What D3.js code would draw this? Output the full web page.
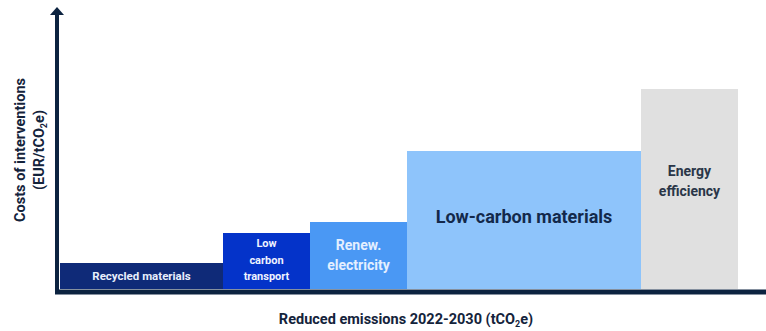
<!DOCTYPE html>
<html>
<head>
<meta charset="utf-8">
<script src="https://cdn.jsdelivr.net/npm/d3@7"></script>
<style>
  html, body { margin: 0; padding: 0; background: #fff; }
  svg { display: block; font-family: Roboto, "Noto Sans", sans-serif; }
</style>
</head>
<body>
<svg id="chart" width="766" height="331"></svg>
<script>
// Abatement cost curve: bar width = emissions reduced, bar height = cost per tonne
const interventions = ["Recycled materials", "Low carbon transport", "Renew. electricity", "Low-carbon materials", "Energy efficiency"];
const labelLines = [["Recycled materials"], ["Low", "carbon", "transport"], ["Renew.", "electricity"], ["Low-carbon materials"], ["Energy", "efficiency"]];
const reducedEmissions = [163, 87, 97, 234, 97];
const costPerTonne = [26, 56, 67, 138, 200];
const fills = ["#0f2a78", "#0433c9", "#4a98f4", "#8ec4fb", "#e0e0e0"];
const textColors = ["#e8eefc", "#eef2ff", "#e4efff", "#13294b", "#2a3648"];
const fontSizes = [11.5, 11, 14, 18, 14];

const svg = d3.select("#chart");
const axisColor = "#0c2340";

const x0 = 60, x1 = 766, yBase = 289, yTop = 9;
const totalX = 706;

const x = d3.scaleLinear().domain([0, totalX]).range([x0, x1]);
const y = d3.scaleLinear().domain([0, 280]).range([yBase, yTop]);

// cumulative start positions along the emissions axis
const starts = [];
reducedEmissions.reduce((acc, w, i) => { starts[i] = acc; return acc + w; }, 0);

const data = interventions.map((name, i) => ({
  name, lines: labelLines[i], start: starts[i], width: reducedEmissions[i],
  cost: costPerTonne[i], fill: fills[i], tc: textColors[i], fs: fontSizes[i]
}));

const g = svg.append("g");

g.selectAll("rect.bar").data(data).join("rect")
  .attr("class", "bar")
  .attr("x", d => x(d.start))
  .attr("width", d => x(d.start + d.width) - x(d.start))
  .attr("y", d => y(d.cost))
  .attr("height", d => y(0) - y(d.cost))
  .attr("fill", d => d.fill);

// bar label baselines
const labelY = {
  "Recycled materials": [280],
  "Low carbon transport": [247, 264, 280],
  "Renew. electricity": [250, 270],
  "Low-carbon materials": [223],
  "Energy efficiency": [176, 196]
};

data.forEach(d => {
  const cx = (x(d.start) + x(d.start + d.width)) / 2;
  const t = g.append("text")
    .attr("text-anchor", "middle")
    .attr("fill", d.tc)
    .attr("font-weight", "bold")
    .attr("font-size", d.fs);
  d.lines.forEach((ln, k) => {
    t.append("tspan").attr("x", cx).attr("y", labelY[d.name][k]).text(ln);
  });
});

// axes
svg.append("line")
  .attr("x1", 57).attr("x2", 57).attr("y1", 14).attr("y2", yBase + 4)
  .attr("stroke", axisColor).attr("stroke-width", 4);
svg.append("path")
  .attr("d", "M50,15 L57,7 L64,15 Z")
  .attr("fill", axisColor);
svg.append("line")
  .attr("x1", 55).attr("x2", 766).attr("y1", yBase + 3).attr("y2", yBase + 3)
  .attr("stroke", axisColor).attr("stroke-width", 5);

// axis titles
const titleColor = "#14233b";
const xt = svg.append("text")
  .attr("x", 406).attr("y", 324)
  .attr("text-anchor", "middle")
  .attr("font-weight", "bold").attr("font-size", 14.5).attr("fill", titleColor);
xt.append("tspan").text("Reduced emissions 2022-2030 (tCO");
xt.append("tspan").attr("font-size", 9).attr("dy", 3).text("2");
xt.append("tspan").attr("dy", -3).text("e)");

const yt = svg.append("g").attr("transform", "translate(0,150) rotate(-90)");
yt.append("text")
  .attr("x", 0).attr("y", 25)
  .attr("text-anchor", "middle")
  .attr("font-weight", "bold").attr("font-size", 14.5).attr("fill", titleColor)
  .text("Costs of interventions");
const yt2 = yt.append("text")
  .attr("x", 0).attr("y", 44)
  .attr("text-anchor", "middle")
  .attr("font-weight", "bold").attr("font-size", 14.5).attr("fill", titleColor);
yt2.append("tspan").text("(EUR/tCO");
yt2.append("tspan").attr("font-size", 9).attr("dy", 3).text("2");
yt2.append("tspan").attr("dy", -3).text("e)");
</script>
</body>
</html>
